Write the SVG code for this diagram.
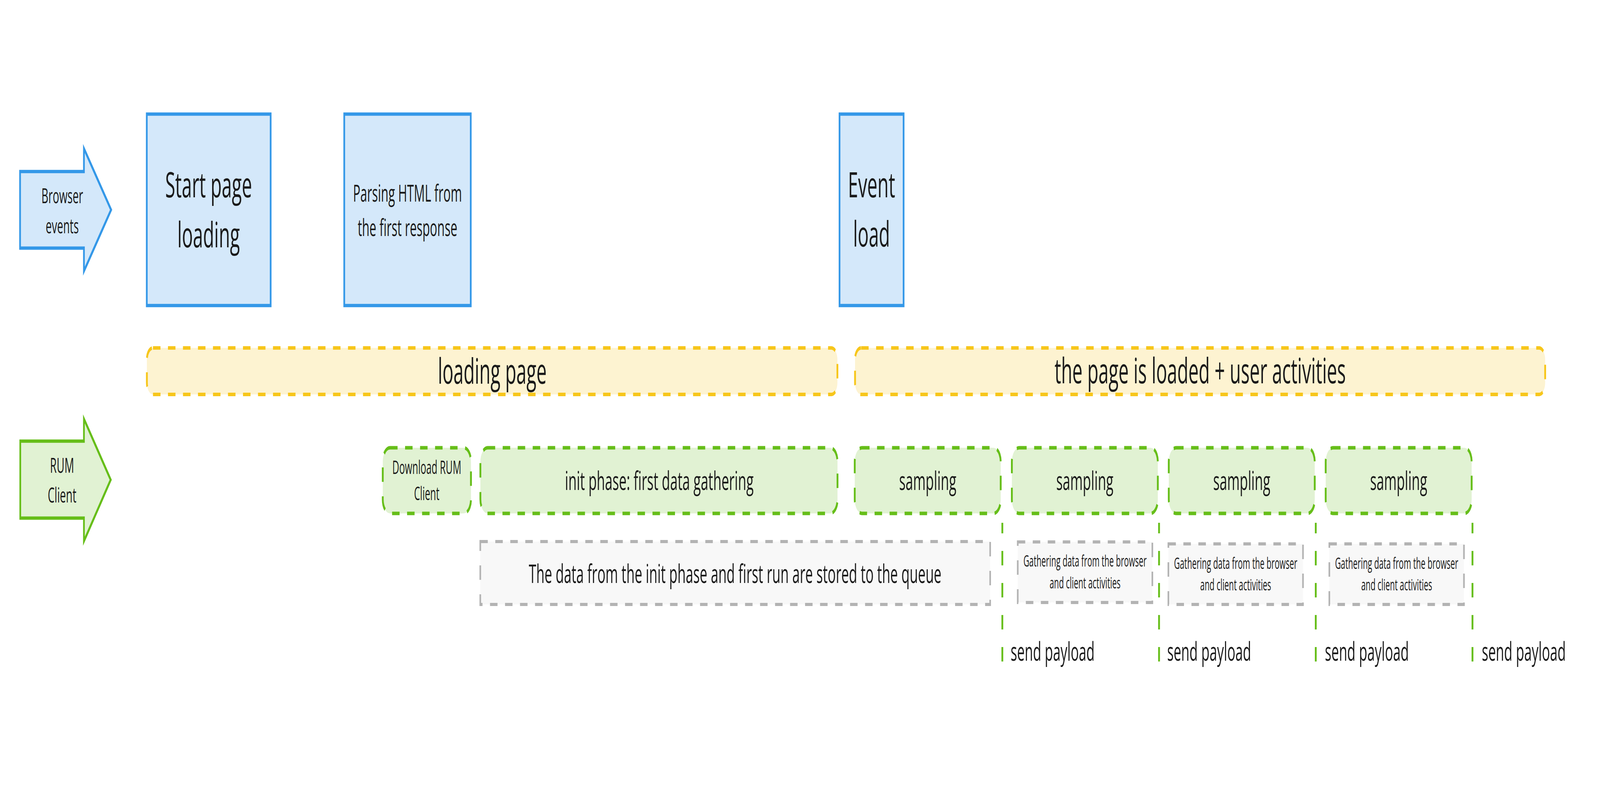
<svg xmlns="http://www.w3.org/2000/svg" width="7892" height="2027" viewBox="0 0 7892 2027" preserveAspectRatio="none">
<style>
svg{width:100vw;height:100vh}
text{font-family:"Open Sans","Noto Sans","Liberation Sans",sans-serif;fill:#1a1a1a;text-anchor:middle}
.blue{fill:#d4e8fa;stroke:#3498e8;stroke-width:8.5}
.yel{fill:#fdf3d1;stroke:#f7c61b;stroke-width:9;stroke-dasharray:37 37}
.grn{fill:#e1f2d3;stroke:#66be19;stroke-width:9;stroke-dasharray:37 37}
.gry{fill:#f8f8f8;stroke:#b3b3b3;stroke-width:8;stroke-dasharray:37 37}
.vl{stroke:#66be19;stroke-width:9;stroke-dasharray:37 45;stroke-dashoffset:10;fill:none}
.f90{font-size:90px}.f66{font-size:66.7px}.f60{font-size:60px}.f53{font-size:53px}.f47{font-size:47px}.f40{font-size:39.5px}
.l{text-anchor:start}
</style>
<rect width="7892" height="2027" fill="#ffffff"/>
<g id="browser-events">
<polygon class="blue" points="99,439 414,439 414,380 548,537 414,694 414,635 99,635"/>
<text class="f53" x="307" y="520">Browser</text>
<text class="f53" x="307" y="597">events</text>
</g>
<g id="start-page-loading">
<rect class="blue" x="724" y="292" width="611" height="490"/>
<text class="f90" x="1029" y="505">Start page</text>
<text class="f90" x="1029" y="633">loading</text>
</g>
<g id="parsing-html">
<rect class="blue" x="1698" y="292" width="624" height="490"/>
<text class="f60" x="2010" y="516">Parsing HTML from</text>
<text class="f60" x="2010" y="604">the first response</text>
</g>
<g id="event-load">
<rect class="blue" x="4141" y="292" width="316" height="490"/>
<text class="f90" x="4299" y="505">Event</text>
<text class="f90" x="4299" y="631">load</text>
</g>
<g id="loading-page">
<rect class="yel" x="724.5" y="890.5" width="3406" height="119" rx="30"/>
<text class="f90" x="2428" y="982">loading page</text>
</g>
<g id="page-loaded">
<rect class="yel" x="4217.5" y="890.5" width="3404" height="119" rx="30"/>
<text class="f90" x="5920" y="981">the page is loaded + user activities</text>
</g>
<g id="rum-client">
<polygon class="blue" style="fill:#e1f2d3;stroke:#66be19" points="100,1129 414,1129 414,1072 546,1228 414,1385 414,1326 100,1326"/>
<text class="f53" x="306" y="1210">RUM</text>
<text class="f53" x="306" y="1286">Client</text>
</g>
<g id="download-rum">
<rect class="grn" x="1888" y="1146" width="435" height="168" rx="36"/>
<text class="f47" x="2105" y="1213">Download RUM</text>
<text class="f47" x="2105" y="1280">Client</text>
</g>
<g id="init-phase">
<rect class="grn" x="2369.5" y="1146" width="1761.5" height="168" rx="36"/>
<text class="f66" x="3252" y="1254">init phase: first data gathering</text>
</g>
<g id="sampling-1">
<rect class="grn" x="4216" y="1146" width="720" height="168" rx="36"/>
<text class="f66" x="4576" y="1254">sampling</text>
</g>
<g id="sampling-2">
<rect class="grn" x="4991" y="1146" width="720" height="168" rx="36"/>
<text class="f66" x="5351" y="1254">sampling</text>
</g>
<g id="sampling-3">
<rect class="grn" x="5765" y="1146" width="720" height="168" rx="36"/>
<text class="f66" x="6125" y="1254">sampling</text>
</g>
<g id="sampling-4">
<rect class="grn" x="6539" y="1146" width="720" height="168" rx="36"/>
<text class="f66" x="6899" y="1254">sampling</text>
</g>
<g id="queue-note">
<rect class="gry" x="2369" y="1386" width="2515" height="161"/>
<text class="f66" x="3626" y="1492">The data from the init phase and first run are stored to the queue</text>
</g>
<g id="gathering-1">
<rect class="gry" x="5020" y="1387" width="664" height="155"/>
<text class="f40" x="5352" y="1450">Gathering data from the browser</text>
<text class="f40" x="5352" y="1506">and client activities</text>
</g>
<g id="gathering-2">
<rect class="gry" x="5763" y="1392" width="664" height="155"/>
<text class="f40" x="6095" y="1456">Gathering data from the browser</text>
<text class="f40" x="6095" y="1511">and client activities</text>
</g>
<g id="gathering-3">
<rect class="gry" x="6557" y="1392" width="664" height="155"/>
<text class="f40" x="6889" y="1456">Gathering data from the browser</text>
<text class="f40" x="6889" y="1511">and client activities</text>
</g>
<g id="connectors">
<line class="vl" x1="4944" y1="1338" x2="4944" y2="1695"/>
<line class="vl" x1="5717" y1="1338" x2="5717" y2="1695"/>
<line class="vl" x1="6490" y1="1338" x2="6490" y2="1695"/>
<line class="vl" x1="7263" y1="1338" x2="7263" y2="1695"/>
</g>
<g id="send-payload-labels">
<text class="f66 l" x="4985" y="1691">send payload</text>
<text class="f66 l" x="5757" y="1691">send payload</text>
<text class="f66 l" x="6535" y="1691">send payload</text>
<text class="f66 l" x="7309" y="1691">send payload</text>
</g>
</svg>
